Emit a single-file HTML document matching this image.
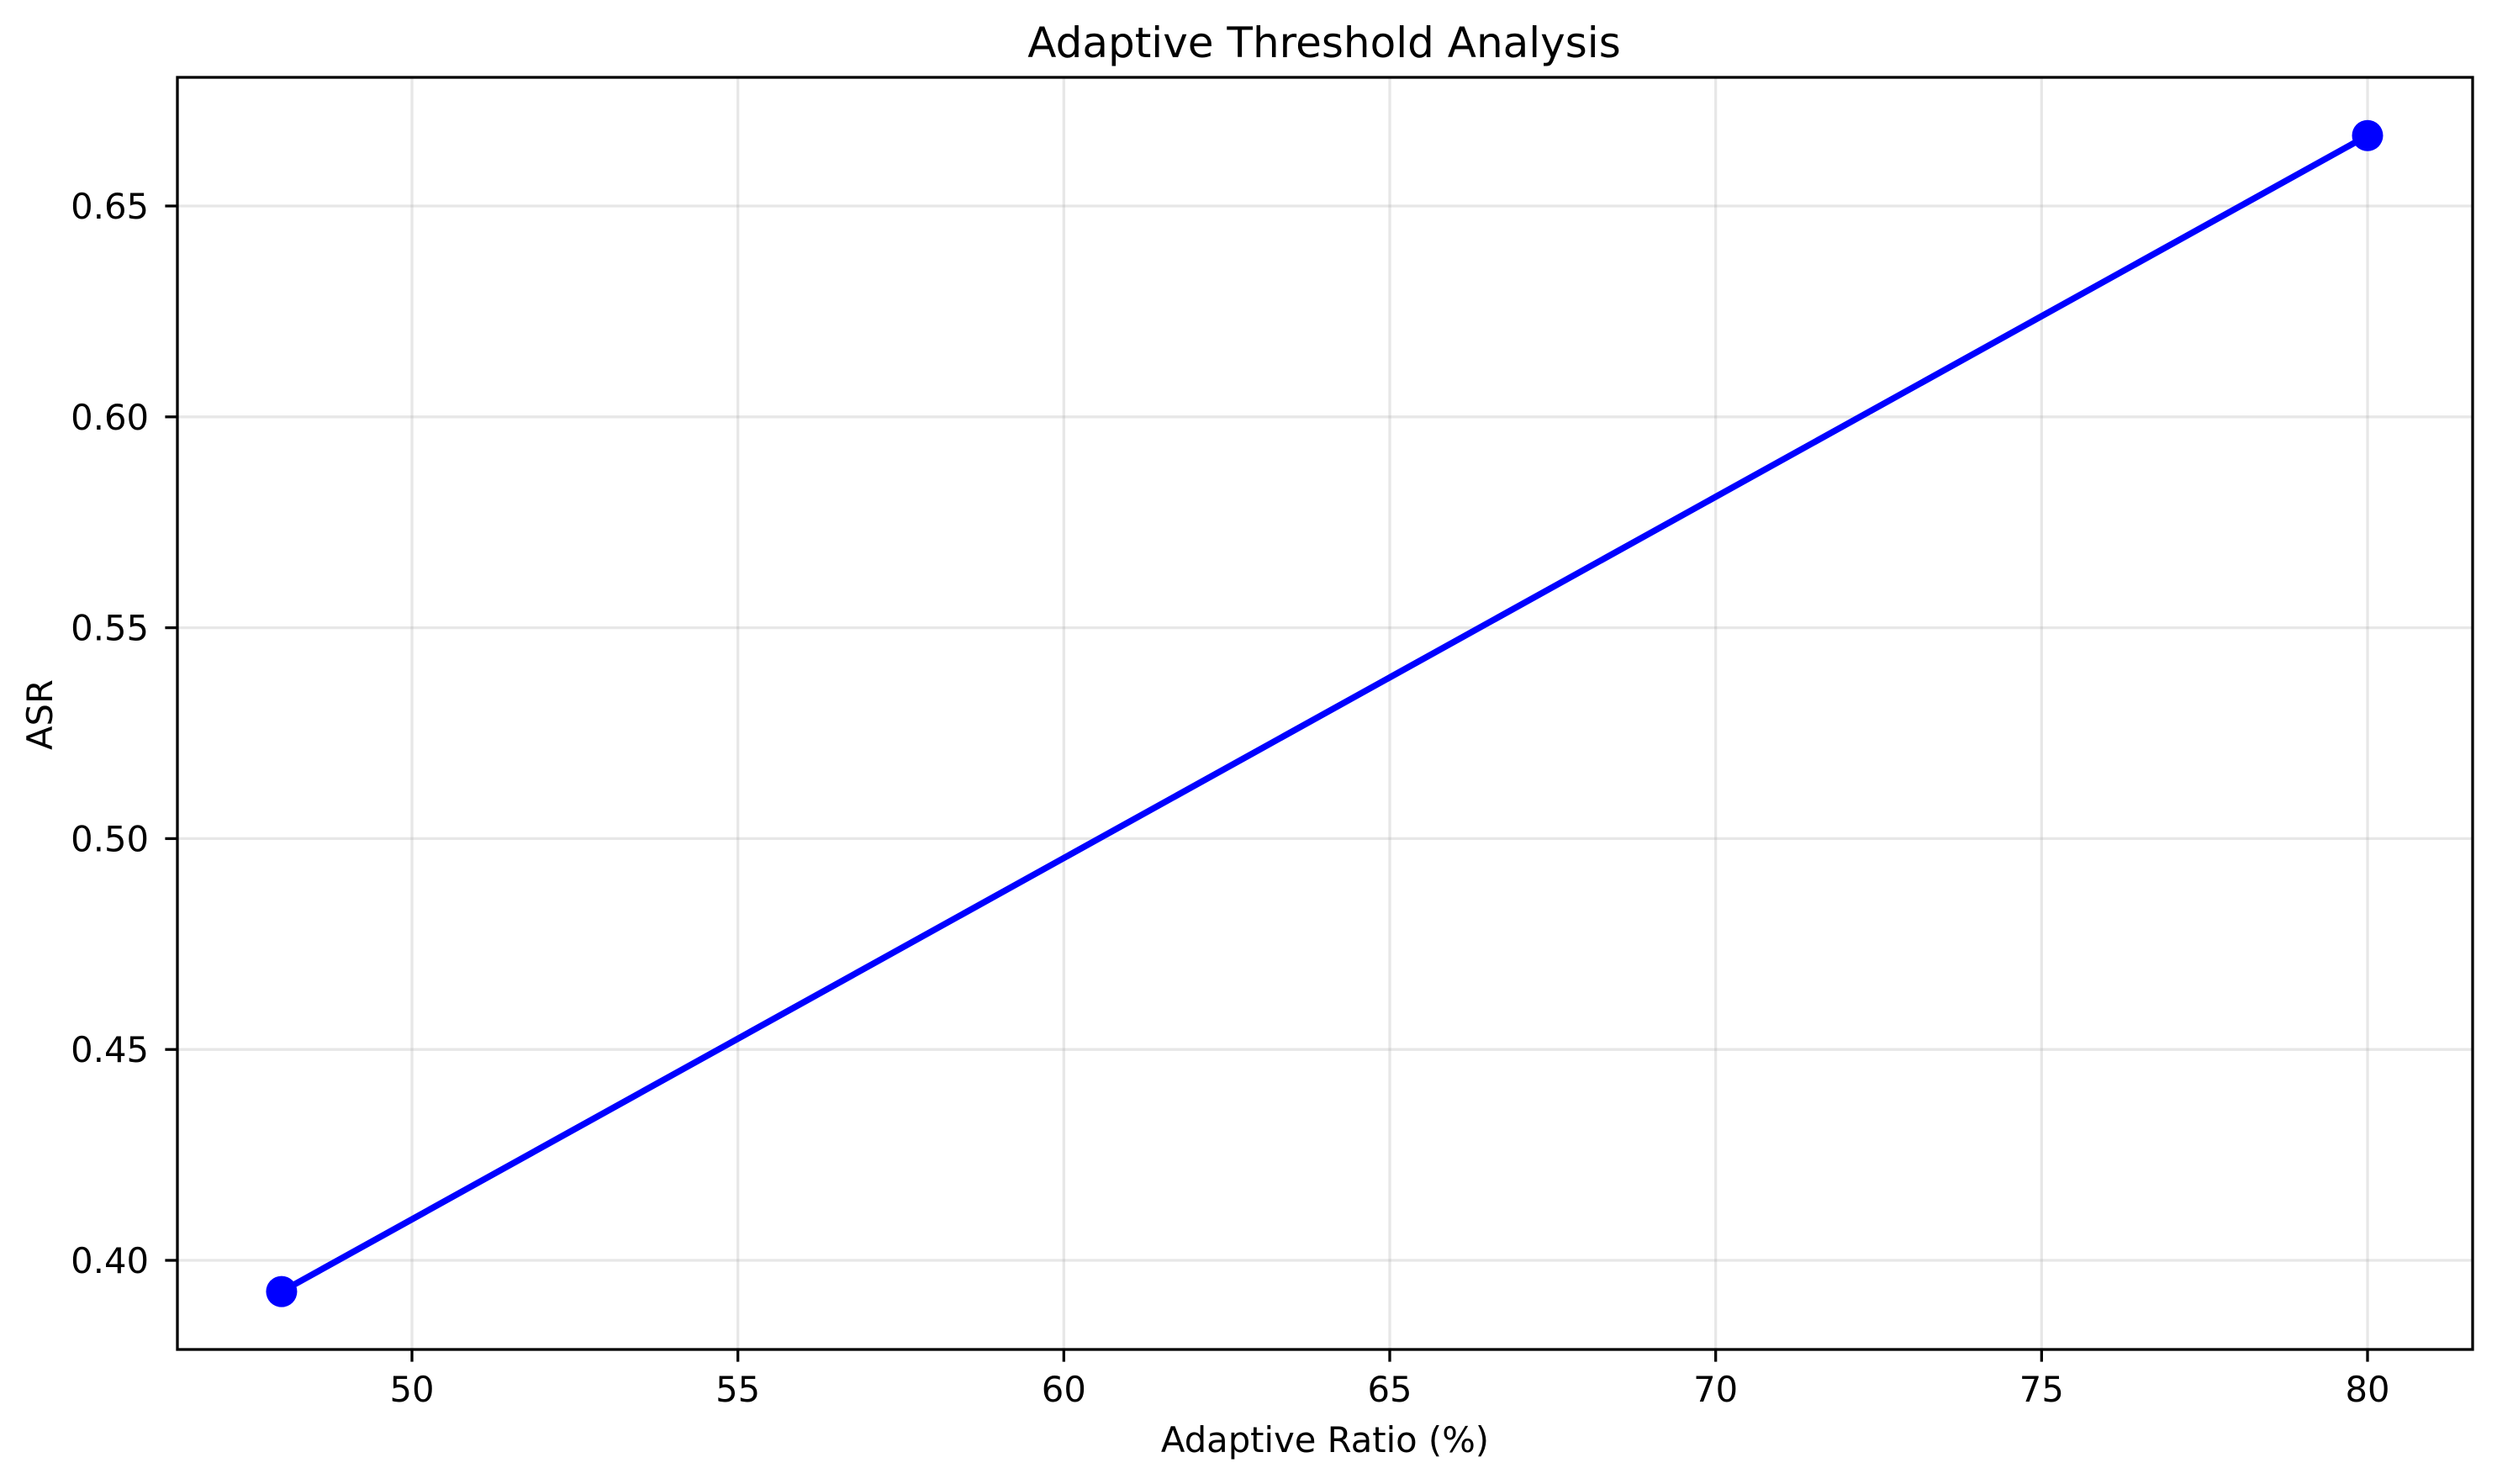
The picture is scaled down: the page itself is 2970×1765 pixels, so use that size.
<!DOCTYPE html>
<html><head><meta charset="utf-8"><style>
html,body{margin:0;padding:0;background:#fff;}
svg{display:block;font-family:"DejaVu Sans","Liberation Sans",sans-serif;}
</style></head><body>
<svg id="chart" width="2970" height="1765" xmlns="http://www.w3.org/2000/svg">
<rect x="0" y="0" width="2970" height="1765" fill="#fff"/>
<g id="grid"></g>
<g id="ticks"></g>
<g id="series"></g>
<rect x="211" y="92" width="2730" height="1513" fill="none" stroke="#000" stroke-width="3.3"/>
<text x="1575" y="68" font-size="50" text-anchor="middle">Adaptive Threshold Analysis</text>
<text x="1576" y="1727" font-size="41.7" text-anchor="middle">Adaptive Ratio (%)</text>
<text x="0" y="0" font-size="41.7" text-anchor="middle" transform="translate(62,850) rotate(-90)">ASR</text>
</svg>
<script>
const xValues = [48, 80];
const yValues = [0.3926, 0.6667];
const xTicks = [50, 55, 60, 65, 70, 75, 80];
const yTicks = [0.40, 0.45, 0.50, 0.55, 0.60, 0.65];
const yTickLabels = ["0.40", "0.45", "0.50", "0.55", "0.60", "0.65"];

const NS = "http://www.w3.org/2000/svg";
const L = 211, R = 2941, T = 92, B = 1605;
function sx(v){ return 490 + (v - 50) * (2816 - 490) / 30; }
function sy(v){ return 1499 - (v - 0.40) * (1499 - 245) / 0.25; }
function mk(tag, attrs, parent){
  const e = document.createElementNS(NS, tag);
  for (const k in attrs) e.setAttribute(k, attrs[k]);
  parent.appendChild(e);
  return e;
}
const grid = document.getElementById('grid');
const ticks = document.getElementById('ticks');
const series = document.getElementById('series');

xTicks.forEach(v => {
  const x = sx(v);
  const g = mk('line', {x1:x, x2:x, y1:T, y2:B, stroke:'#b0b0b0', 'stroke-opacity':0.3, 'stroke-width':3.3}, grid);
  
  
  const t = mk('line', {x1:x, x2:x, y1:B, y2:B+14.6, stroke:'#000', 'stroke-width':3.3}, ticks);
  
  
  const lb = mk('text', {x:x, y:1667, 'font-size':41.7, 'text-anchor':'middle'}, ticks);
  lb.textContent = String(v);
  
  
});
yTicks.forEach((v, i) => {
  const y = sy(v);
  const g = mk('line', {x1:L, x2:R, y1:y, y2:y, stroke:'#b0b0b0', 'stroke-opacity':0.3, 'stroke-width':3.3}, grid);
  
  
  const t = mk('line', {x1:L-14.6, x2:L, y1:y, y2:y, stroke:'#000', 'stroke-width':3.3}, ticks);
  
  
  const lb = mk('text', {x:177, y:y+15, 'font-size':41.7, 'text-anchor':'end'}, ticks);
  lb.textContent = yTickLabels[i];
  
  
});
const pts = xValues.map((x, i) => sx(x) + ',' + sy(yValues[i])).join(' ');
const line = mk('polyline', {points:pts, fill:'none', stroke:'#0000ff', 'stroke-width':7.5, 'stroke-linejoin':'round', 'stroke-linecap':'square'}, series);


xValues.forEach((x, i) => {
  const c = mk('circle', {cx:sx(x), cy:sy(yValues[i]), r:18.5, fill:'#0000ff'}, series);
  
  
});
</script>
</body></html>
